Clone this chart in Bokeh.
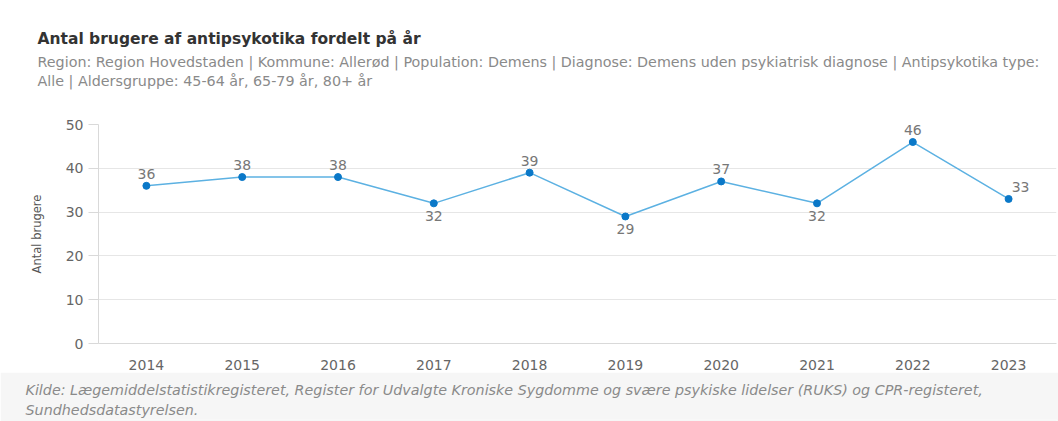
from bokeh.plotting import figure
from bokeh.layouts import column
from bokeh.models import ColumnDataSource, FixedTicker, Range1d, Title
from bokeh.core.properties import value
from bokeh.embed import file_html
from bokeh.resources import INLINE

years = [2014, 2015, 2016, 2017, 2018, 2019, 2020, 2021, 2022, 2023]
users = [36, 38, 38, 32, 39, 29, 37, 32, 46, 33]
y_ticks = [0, 10, 20, 30, 40, 50]

title_text = "Antal brugere af antipsykotika fordelt på år"
subtitle_lines = [
    "Region: Region Hovedstaden | Kommune: Allerød | Population: Demens | Diagnose: Demens uden psykiatrisk diagnose | Antipsykotika type:",
    "Alle | Aldersgruppe: 45-64 år, 65-79 år, 80+ år",
]
y_label = "Antal brugere"
source_lines = [
    "Kilde: Lægemiddelstatistikregisteret, Register for Udvalgte Kroniske Sygdomme og svære psykiske lidelser (RUKS) og CPR-registeret,",
    "Sundhedsdatastyrelsen.",
]

FONT = "DejaVu Sans"
W = 1058
H_MAIN = 372
H_FOOT = 49
ML, MT, MB, MR = 98, 124, 28, 2

p = figure(width=W, height=H_MAIN, output_backend="svg", toolbar_location=None,
           title=None,
           x_range=Range1d(years[0] - 0.5, years[-1] + 0.5),
           y_range=Range1d(0, 50),
           min_border_left=ML, min_border_right=MR, min_border_top=MT, min_border_bottom=MB)
p.outline_line_color = None
p.background_fill_color = "white"
p.border_fill_color = "white"

# axes
p.xaxis.ticker = FixedTicker(ticks=years)
p.xaxis.axis_line_color = "#d9d9d9"
p.xaxis.major_tick_line_color = None
p.xaxis.minor_tick_line_color = None
p.xaxis.major_label_text_font = FONT
p.xaxis.major_label_text_font_size = "14px"
p.xaxis.major_label_text_color = "#666666"
p.xaxis.major_label_standoff = 10

p.yaxis.ticker = FixedTicker(ticks=y_ticks)
p.yaxis.axis_line_color = "#d9d9d9"
p.yaxis.major_tick_line_color = "#d9d9d9"
p.yaxis.major_tick_out = 10
p.yaxis.major_tick_in = 0
p.yaxis.minor_tick_line_color = None
p.yaxis.major_label_text_font = FONT
p.yaxis.major_label_text_font_size = "14px"
p.yaxis.major_label_text_color = "#666666"
p.yaxis.major_label_standoff = 5
p.yaxis.axis_label = y_label
p.yaxis.axis_label_text_font = FONT
p.yaxis.axis_label_text_font_size = "11.5px"
p.yaxis.axis_label_text_font_style = "normal"
p.yaxis.axis_label_text_color = "#555555"
p.yaxis.axis_label_standoff = 19

p.xgrid.grid_line_color = None
p.ygrid.grid_line_color = "#e6e6e6"

# data labels: below local minima, above otherwise
n = len(users)
y_off, x_off = [], []
for i, v in enumerate(users):
    below = 0 < i < n - 1 and v < users[i - 1] and v < users[i + 1]
    y_off.append(13 if below else -12)
    x_off.append(12 if i == n - 1 else 0)

src = ColumnDataSource(dict(x=years, y=users, lab=[str(v) for v in users],
                            xo=x_off, yo=y_off))
p.line("x", "y", source=src, line_color="#5cb1e2", line_width=1.5)
p.scatter("x", "y", source=src, size=7, fill_color="#0a78c8", line_color="#0a78c8")
p.text("x", "y", text="lab", source=src, x_offset="xo", y_offset="yo",
       text_align="center", text_baseline="middle",
       text_font=value(FONT), text_font_size="14px", text_color="#777777")


def title(text, size, color, style, offset, standoff):
    return Title(text=text, align="left", offset=offset, standoff=standoff,
                 text_font=FONT, text_font_size=size, text_font_style=style,
                 text_color=color)


# titles above the frame, innermost first (first one is an empty spacer)
p.add_layout(title(" ", "10px", "#ffffff", "normal", 0, 23), "above")
p.add_layout(title(subtitle_lines[1], "14.3px", "#8a8a8a", "normal", 37 - ML, 0), "above")
p.add_layout(title(subtitle_lines[0], "14.3px", "#8a8a8a", "normal", 37 - ML, 1), "above")
p.add_layout(title(title_text, "15.5px", "#333333", "bold", 37 - ML, 8), "above")

# footer
f = figure(width=W, height=H_FOOT, output_backend="svg", toolbar_location=None,
           title=None, x_range=Range1d(0, 1), y_range=Range1d(0, 1), min_border=0)
f.axis.visible = False
f.grid.visible = False
f.outline_line_color = None
f.background_fill_color = "#f6f6f6"
f.border_fill_color = "#f6f6f6"
f.add_layout(title(source_lines[1], "14.3px", "#8a8a8a", "italic", 25 - ML, 4), "above")
f.add_layout(title(source_lines[0], "14.3px", "#8a8a8a", "italic", 25 - ML, 0), "above")
f.add_layout(title(" ", "4px", "#f6f6f6", "normal", 0, 0), "above")

layout = column(p, f, spacing=0)
open("out.html", "w").write(file_html(layout, INLINE))
